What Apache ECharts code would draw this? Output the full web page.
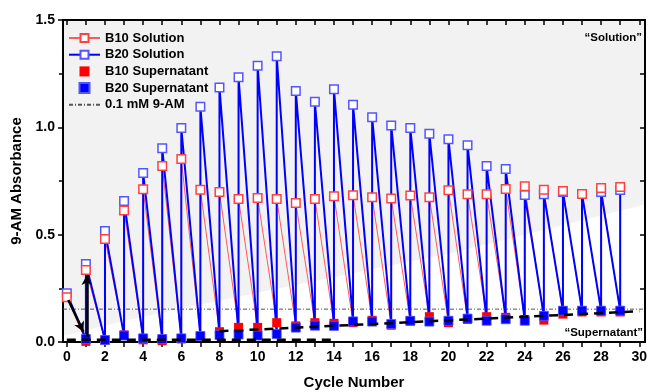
<!DOCTYPE html>
<html>
<head>
<meta charset="utf-8">
<script src="https://cdn.jsdelivr.net/npm/echarts@6/dist/echarts.min.js"></script>
<style>
html,body{margin:0;padding:0;background:#fff;}
#chart{width:654px;height:392px;}
</style>
</head>
<body>
<div id="chart"></div>
<script>
// ---- data ----
var cycles = [0,1,2,3,4,5,6,7,8,9,10,11,12,13,14,15,16,17,18,19,20,21,22,23,24,25,26,27,28,29];
var b10Solution = [0.208,0.335,0.480,0.613,0.711,0.820,0.852,0.709,0.699,0.666,0.671,0.666,0.647,0.666,0.679,0.684,0.674,0.668,0.683,0.674,0.707,0.688,0.688,0.713,0.725,0.709,0.703,0.689,0.717,0.722];
var b20Solution = [0.227,0.363,0.517,0.657,0.787,0.902,0.997,1.096,1.185,1.233,1.287,1.331,1.169,1.119,1.177,1.105,1.047,1.009,0.997,0.970,0.944,0.916,0.820,0.806,0.685,0.688,0.699,0.689,0.699,0.708];
// supernatant values for cycles 1..29
var supCycles = [1,2,3,4,5,6,7,8,9,10,11,12,13,14,15,16,17,18,19,20,21,22,23,24,25,26,27,28,29];
var b10Supernatant = [0.003,0.009,0.033,0.010,0.006,0.015,0.026,0.048,0.068,0.068,0.090,0.075,0.090,0.087,0.090,0.101,0.078,0.097,0.118,0.090,0.105,0.118,0.115,0.105,0.102,0.130,0.140,0.140,0.140];
var b20Supernatant = [0.014,0.009,0.030,0.017,0.014,0.017,0.028,0.033,0.035,0.030,0.037,0.067,0.076,0.075,0.096,0.095,0.084,0.099,0.095,0.099,0.109,0.099,0.106,0.099,0.122,0.146,0.146,0.146,0.146];
var refLevel = 0.153;          // 0.1 mM 9-AM
var refX = [-0.2, 30.3];
var shadeX = [-0.2, 3.2, 9.9, 20.1, 30.3];
var shadeY = [0.028, 0.102, 0.228, 0.413, 0.640];
var yTop = 1.5;
var lowDashX = [0, 14], lowDashY = [0.010, 0.010];
var upDashX = [8, 30], upDashY = [0.050, 0.143];
var arrow1 = [[0.08, 0.196], [0.87, 0.048]];
var arrow2 = [[1.05, 0.025], [1.05, 0.312]];
var xTicks = [0,1,2,3,4,5,6,7,8,9,10,11,12,13,14,15,16,17,18,19,20,21,22,23,24,25,26,27,28,29,30];
var xLabels = [0,2,4,6,8,10,12,14,16,18,20,22,24,26,28,30];

function zigzag(sol, sup) {
  var out = [[cycles[0], sol[0]]];
  for (var i = 0; i < supCycles.length; i++) {
    out.push([supCycles[i], sup[i]]);
    out.push([supCycles[i], sol[i+1]]);
  }
  return out;
}
function pairs(xs, ys){ return xs.map(function(x,i){return [x, ys[i]];}); }

var FONT = '"Liberation Sans", Arial, sans-serif';
var SQ = 'path://M0 0H10V10H0Z';
var chart = echarts.init(document.getElementById('chart'), null, {renderer:'canvas'});
chart.setOption({
  animation:false,
  backgroundColor:'#fff',
  grid: {left:63, right:9, top:20, bottom:50, containLabel:false, outerBoundsMode:'none'},
  legend: {
    orient:'vertical', left:63, top:25,
    itemWidth:31, itemHeight:10, itemGap:0.7,
    textStyle:{fontFamily:FONT, fontWeight:'bold', fontSize:13, color:'#000', lineHeight:16},
    data:[
      {name:'B10 Solution'},
      {name:'B20 Solution'},
      {name:'B10 Supernatant', icon:SQ},
      {name:'B20 Supernatant', icon:SQ},
      {name:'0.1 mM 9-AM'}
    ]
  },
  xAxis: [{
    type:'value', position:'bottom', min:-0.2, max:30.3,
    axisLine:{show:true, onZero:false, lineStyle:{color:'#000', width:2}},
    axisTick:{show:true, inside:false, length:5, customValues:xTicks, lineStyle:{color:'#000', width:1.5}},
    axisLabel:{customValues:xLabels, margin:8, fontFamily:FONT, fontWeight:'bold', fontSize:14, color:'#000'},
    splitLine:{show:false},
    name:'Cycle Number', nameLocation:'middle', nameGap:33,
    nameTextStyle:{fontFamily:FONT, fontWeight:'bold', fontSize:15, color:'#000'}
  },{
    type:'value', position:'top', min:-0.2, max:30.3,
    axisLine:{show:true, onZero:false, lineStyle:{color:'#000', width:2}},
    axisTick:{show:true, inside:true, length:5, customValues:xTicks, lineStyle:{color:'#000', width:1.5}},
    axisLabel:{show:false}, splitLine:{show:false}
  }],
  yAxis: [{
    type:'value', position:'left', min:0, max:yTop, interval:0.5,
    axisLine:{show:true, onZero:false, lineStyle:{color:'#000', width:2}},
    axisTick:{show:true, inside:false, length:5, lineStyle:{color:'#000', width:1.5}},
    minorTick:{show:true, splitNumber:2, length:4, lineStyle:{color:'#000', width:1.5}},
    axisLabel:{margin:8, fontFamily:FONT, fontWeight:'bold', fontSize:14, color:'#000',
      formatter:function(v){return v.toFixed(1);}},
    splitLine:{show:false},
    name:'9-AM Absorbance', nameLocation:'middle', nameGap:35, nameRotate:90,
    nameTextStyle:{fontFamily:FONT, fontWeight:'bold', fontSize:15, color:'#000'}
  },{
    type:'value', position:'right', min:0, max:yTop, interval:0.5,
    axisLine:{show:true, onZero:false, lineStyle:{color:'#000', width:2}},
    axisTick:{show:true, inside:true, length:5, lineStyle:{color:'#000', width:1.5}},
    minorTick:{show:true, splitNumber:2, length:5, lineStyle:{color:'#000', width:1.5}},
    axisLabel:{show:false}, splitLine:{show:false}
  }],
  graphic: [
    {type:'text', x:642, y:38, z:100, style:{text:'\u201CSolution\u201D', font:'bold 11.5px ' + FONT, fill:'#000', align:'right', verticalAlign:'middle'}},
    {type:'text', x:643, y:333, z:100, style:{text:'\u201CSupernatant\u201D', font:'bold 11.5px ' + FONT, fill:'#000', align:'right', verticalAlign:'middle'}}
  ],
  series: [
    {
      name:'shade', type:'custom', silent:true, z:0, clip:true,
      data:[0],
      renderItem:function(params, api){
        var pts = [];
        for (var i = 0; i < shadeX.length; i++) pts.push(api.coord([shadeX[i], shadeY[i]]));
        pts.push(api.coord([shadeX[shadeX.length-1], yTop]));
        pts.push(api.coord([shadeX[0], yTop]));
        return {type:'polygon', shape:{points:pts}, style:{fill:'#f2f2f2', stroke:null}};
      }
    },
    {
      name:'0.1 mM 9-AM', type:'line', data:pairs(refX, [refLevel, refLevel]), symbol:'none', z:1,
      itemStyle:{color:'rgba(0,0,0,0)'},
      lineStyle:{color:'#555', width:1, type:[4,2,1,2]}
    },
    {
      name:'B10 Solution', type:'line', data:zigzag(b10Solution, b10Supernatant), z:2,
      symbol:'rect', symbolSize:8, showSymbol:false,
      lineStyle:{color:'#ff5a5a', width:1},
      itemStyle:{color:'#fff', borderColor:'#ff4040', borderWidth:1.5}
    },
    {
      name:'B20 Solution', type:'line', data:zigzag(b20Solution, b20Supernatant), z:3,
      symbol:'rect', symbolSize:8, showSymbol:false,
      lineStyle:{color:'#0000ff', width:2},
      itemStyle:{color:'#fff', borderColor:'#5555ff', borderWidth:1.5}
    },
    {
      name:'B20 Solution markers', type:'scatter', data:pairs(cycles, b20Solution), z:4,
      symbol:'rect', symbolSize:8.5,
      itemStyle:{color:'#fff', borderColor:'#5555ff', borderWidth:1.5, opacity:1}
    },
    {
      name:'B10 Solution markers', type:'scatter', data:pairs(cycles, b10Solution), z:4,
      symbol:'rect', symbolSize:8.5,
      itemStyle:{color:'#fff', borderColor:'#ff4040', borderWidth:1.5, opacity:1}
    },
    {
      name:'B10 Supernatant', type:'scatter', data:pairs(supCycles, b10Supernatant), z:4,
      symbol:'rect', symbolSize:9, itemStyle:{color:'#ff0000', opacity:1}
    },
    {
      name:'B20 Supernatant', type:'scatter', data:pairs(supCycles, b20Supernatant), z:4,
      symbol:'rect', symbolSize:9, itemStyle:{color:'#0000ff', borderColor:'#5555ff', borderWidth:0.8, opacity:1}
    },
    {
      name:'lowDash', type:'line', data:pairs(lowDashX, lowDashY), symbol:'none', z:6,
      lineStyle:{color:'#000', width:2.5, type:[9,6]}
    },
    {
      name:'upDash', type:'line', data:pairs(upDashX, upDashY), symbol:'none', z:6,
      lineStyle:{color:'#000', width:2.5, type:[9,6]}
    },
    {
      name:'arrows', type:'line', data:[], z:7,
      markLine:{
        silent:true, symbol:['none','arrow'], symbolSize:[8,10], label:{show:false},
        lineStyle:{color:'#000', width:2.5, type:'solid'},
        data:[
          [{coord:arrow1[0]},{coord:arrow1[1]}],
          [{coord:arrow2[0]},{coord:arrow2[1]}]
        ]
      }
    }
  ]
});
</script>
</body>
</html>
